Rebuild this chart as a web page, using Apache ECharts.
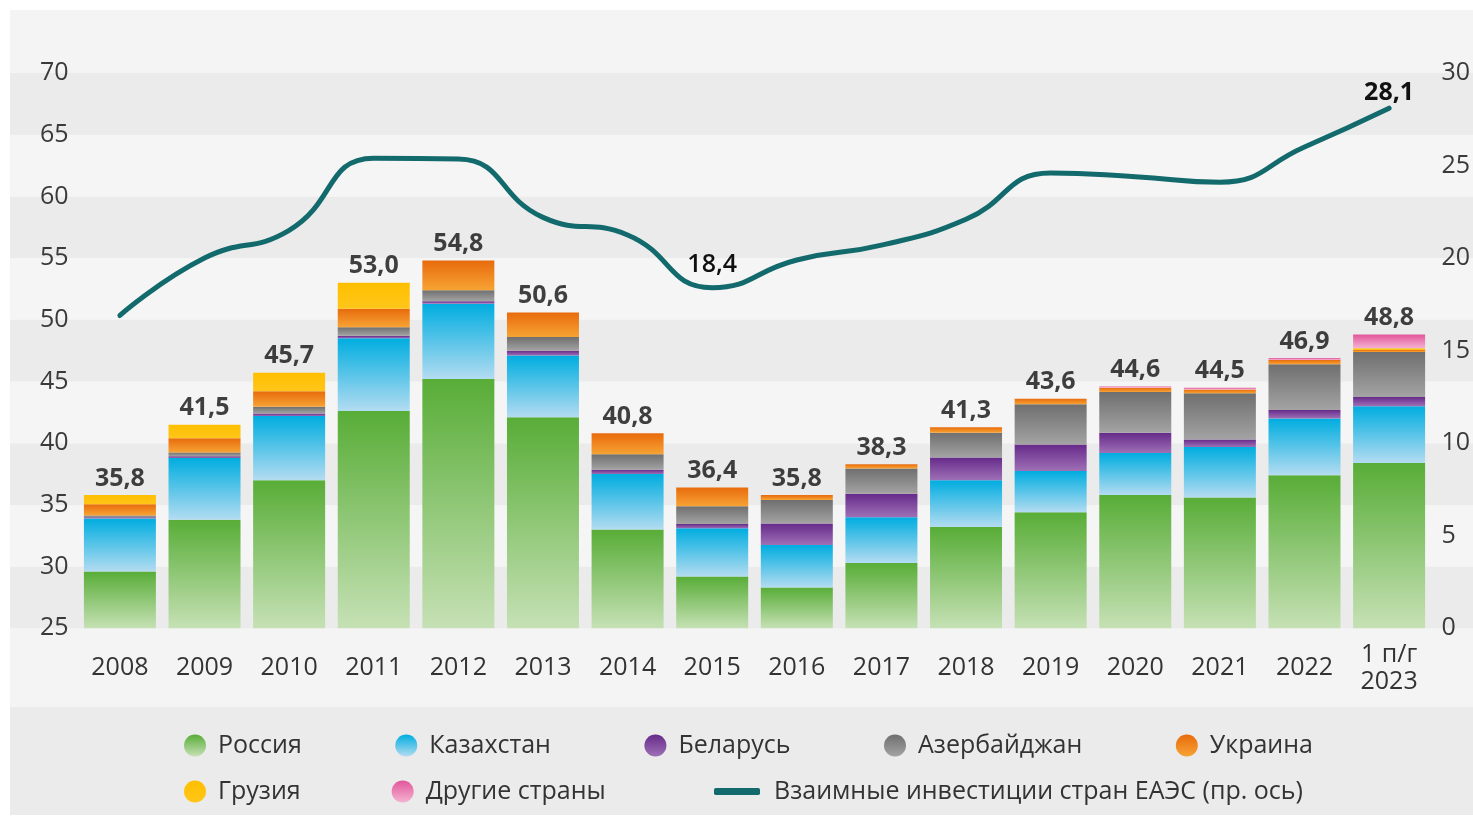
<!DOCTYPE html>
<html>
<head>
<meta charset="utf-8">
<script src="https://cdn.jsdelivr.net/npm/echarts@6/dist/echarts.min.js"></script>
<style>
    html, body { margin: 0; padding: 0; background: #fff; overflow: hidden; }
    #bgTop { position: absolute; left: 10px; top: 10px; width: 1463px; height: 697px; background: #f4f4f4; }
    #bgLegend { position: absolute; left: 10px; top: 707px; width: 1463px; height: 108px; background: #ebebeb; }
    #chart { position: absolute; left: 0; top: 0; width: 1473px; height: 817px; }
</style>
</head>
<body>
<div id="bgTop"></div>
<div id="bgLegend"></div>
<div id="chart"></div>
<script>
const categories = ["2008", "2009", "2010", "2011", "2012", "2013", "2014", "2015",
    "2016", "2017", "2018", "2019", "2020", "2021", "2022", "1 п/г\n2023"];

// млрд долл., левая ось
const russia     = [29.6, 33.8, 37.0, 42.6, 45.2, 42.1, 33.0, 29.2, 28.3, 30.3, 33.2, 34.4, 35.8, 35.6, 37.4, 38.4];
const kazakhstan = [4.3, 5.0, 5.2, 5.9, 6.1, 5.0, 4.5, 3.9, 3.45, 3.7, 3.8, 3.35, 3.4, 4.1, 4.6, 4.6];
const belarus    = [0.1, 0.15, 0.2, 0.2, 0.2, 0.4, 0.35, 0.35, 1.75, 1.9, 1.85, 2.15, 1.65, 0.6, 0.7, 0.75];
const azerbaijan = [0.15, 0.3, 0.55, 0.7, 0.9, 1.1, 1.25, 1.45, 1.9, 2.05, 2.0, 3.25, 3.3, 3.75, 3.7, 3.65];
const ukraine    = [0.9, 1.15, 1.25, 1.5, 2.4, 2.0, 1.7, 1.5, 0.4, 0.35, 0.45, 0.45, 0.35, 0.3, 0.35, 0.15];
const georgia    = [0.75, 1.1, 1.5, 2.1, 0, 0, 0, 0, 0, 0, 0, 0, 0, 0, 0, 0.15];
const others     = [0, 0, 0, 0, 0, 0, 0, 0, 0, 0, 0, 0, 0.1, 0.15, 0.15, 1.1];
const totals     = [35.8, 41.5, 45.7, 53.0, 54.8, 50.6, 40.8, 36.4, 35.8, 38.3, 41.3, 43.6, 44.6, 44.5, 46.9, 48.8];

// взаимные инвестиции стран ЕАЭС, правая ось
const eaeu = [16.9, 20.0, 21.5, 25.4, 25.35, 22.2, 21.25, 18.4, 19.9, 20.7, 22.1, 24.6, 24.4, 24.1, 26.0, 28.1];
const eaeuLabelled = [7, 15];

const leftTicks = { min: 25, max: 70, interval: 5 };
const rightTicks = { min: 0, max: 30, interval: 5 };

const FONT = "'Open Sans', 'Noto Sans', sans-serif";
const fmt = v => v.toFixed(1).replace(".", ",");

const grad = (top, bottom) => new echarts.graphic.LinearGradient(0, 0, 0, 1, [
    { offset: 0, color: top },
    { offset: 1, color: bottom }
]);

const stackSeries = [
    { name: "Россия", data: russia, color: grad("#58ad37", "#c6e1b5") },
    { name: "Казахстан", data: kazakhstan, color: grad("#00ade0", "#b3dcf1") },
    { name: "Беларусь", data: belarus, color: grad("#662a8a", "#9e70b6") },
    { name: "Азербайджан", data: azerbaijan, color: grad("#6f6f6f", "#a3a3a3") },
    { name: "Украина", data: ukraine, color: grad("#e86b0c", "#f7a334") },
    { name: "Грузия", data: georgia, color: grad("#ffbf00", "#ffc61a") },
    { name: "Другие страны", data: others, color: grad("#e2569a", "#f4b3d2") }
].map(s => ({
    name: s.name,
    type: "bar",
    stack: "total",
    barWidth: 72,
    xAxisIndex: 0,
    yAxisIndex: 0,
    itemStyle: { color: s.color },
    emphasis: { disabled: true },
    data: s.data
}));

const chart = echarts.init(document.getElementById("chart"));

const legendText = { fontSize: 25, color: "#333", fontFamily: FONT, padding: [0, 0, 0, 6] };

chart.setOption({
    animation: false,
    textStyle: { fontFamily: FONT },
    grid: [
        { left: 77.6, right: 37.5, top: 73, bottom: 188.7 },
        { left: 10, right: 0, top: 73, bottom: 188.7 }
    ],
    legend: [
        {
            left: 179, top: 728, itemGap: 93.5, itemWidth: 24, itemHeight: 22, icon: "circle",
            textStyle: legendText,
            data: ["Россия", "Казахстан", "Беларусь", "Азербайджан", "Украина"]
        },
        {
            left: 179, top: 774, itemGap: 91, itemWidth: 24, itemHeight: 22, icon: "circle",
            textStyle: legendText,
            data: ["Грузия", "Другие страны"]
        },
        {
            left: 709, top: 774, itemWidth: 46, itemHeight: 7, icon: "roundRect",
            textStyle: Object.assign({}, legendText, { padding: [0, 0, 0, 9] }),
            data: ["Взаимные инвестиции стран ЕАЭС (пр. ось)"]
        }
    ],
    xAxis: [
        {
            type: "category",
            gridIndex: 0,
            data: categories,
            axisLine: { show: false },
            axisTick: { show: false },
            axisLabel: {
                margin: 40,
                verticalAlign: "middle",
                fontSize: 25,
                lineHeight: 27,
                color: "#333",
                fontFamily: FONT
            }
        },
        { type: "value", gridIndex: 1, show: false, min: 0, max: 1 }
    ],
    yAxis: [
        {
            type: "value",
            gridIndex: 0,
            position: "left",
            min: leftTicks.min,
            max: leftTicks.max,
            interval: leftTicks.interval,
            axisLine: { show: false },
            axisTick: { show: false },
            splitLine: { show: false },
            axisLabel: { margin: 9, fontSize: 25, color: "#3a3a3a", fontFamily: FONT }
        },
        {
            type: "value",
            gridIndex: 0,
            position: "right",
            min: rightTicks.min,
            max: rightTicks.max,
            interval: rightTicks.interval,
            axisLine: { show: false },
            axisTick: { show: false },
            splitLine: { show: false },
            axisLabel: { margin: 10, fontSize: 25, color: "#3a3a3a", fontFamily: FONT }
        },
        {
            type: "value",
            gridIndex: 1,
            min: leftTicks.min,
            max: leftTicks.max,
            interval: leftTicks.interval,
            z: 0,
            axisLine: { show: false },
            axisTick: { show: false },
            axisLabel: { show: false },
            splitLine: { show: false },
            splitArea: { show: true, areaStyle: { color: ["#ebebeb", "#f5f5f5"] } }
        }
    ],
    series: [
        ...stackSeries,
        {
            name: "totals",
            type: "scatter",
            xAxisIndex: 0,
            yAxisIndex: 0,
            symbolSize: 0,
            silent: true,
            label: {
                show: true,
                position: "top",
                distance: 4,
                fontSize: 25,
                fontWeight: "bold",
                color: "#111",
                fontFamily: FONT,
                formatter: p => fmt(p.value)
            },
            data: totals
        },
        {
            name: "Взаимные инвестиции стран ЕАЭС (пр. ось)",
            type: "line",
            xAxisIndex: 0,
            yAxisIndex: 1,
            smooth: 0.5,
            symbol: "circle",
            symbolSize: 0,
            showSymbol: true,
            z: 5,
            lineStyle: { width: 5, color: "#136a6c", cap: "round" },
            itemStyle: { color: "#136a6c" },
            label: { show: false },
            data: eaeu.map((v, i) => {
                if (!eaeuLabelled.includes(i)) return v;
                const last = i === eaeu.length - 1;
                return {
                    value: v,
                    label: {
                        show: true,
                        position: "top",
                        distance: last ? 3 : 10,
                        fontSize: 25,
                        fontWeight: last ? "bold" : 600,
                        color: "#111",
                        fontFamily: FONT,
                        formatter: p => fmt(p.value)
                    }
                };
            })
        }
    ]
});
</script>
</body>
</html>
